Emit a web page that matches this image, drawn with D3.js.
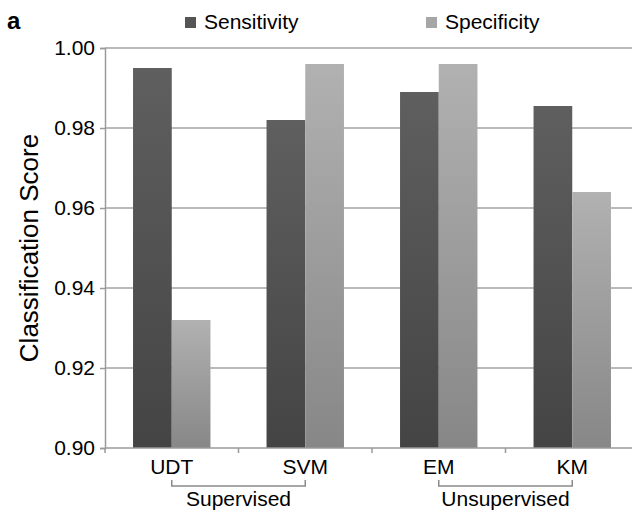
<!DOCTYPE html>
<html>
<head>
<meta charset="utf-8">
<script src="https://cdn.jsdelivr.net/npm/d3@7"></script>
<style>
  body { margin: 0; background: #fff; }
  text { font-family: "Liberation Sans", Arial, sans-serif; fill: #000; }
</style>
</head>
<body>
<div class="chart"></div>
<script>
var methods = ["UDT", "SVM", "EM", "KM"];
var sensitivity = [0.995, 0.982, 0.989, 0.9855];
var specificity = [0.932, 0.996, 0.996, 0.964];
var seriesNames = ["Sensitivity", "Specificity"];
var groups = [
  { name: "Supervised", from: "UDT", to: "SVM" },
  { name: "Unsupervised", from: "EM", to: "KM" }
];
var yTicks = [0.90, 0.92, 0.94, 0.96, 0.98, 1.00];

var svgWidth = 632;
var svgHeight = 512;

// plot area runs a little past the right edge, like the cropped original
var margin = { top: 48, left: 105, right: -7, bottom: 64 };
var width = svgWidth - margin.left - margin.right;
var height = svgHeight - margin.top - margin.bottom;

var svg = d3.select(".chart")
  .append("svg")
  .attr("width", svgWidth)
  .attr("height", svgHeight);

// bar gradients
var defs = svg.append("defs");
function addGradient(id, top, bottom) {
  var g = defs.append("linearGradient")
    .attr("id", id)
    .attr("x1", 0).attr("y1", 0).attr("x2", 0).attr("y2", 1);
  g.append("stop").attr("offset", "0%").attr("stop-color", top);
  g.append("stop").attr("offset", "100%").attr("stop-color", bottom);
}
addGradient("gradDark", "#5f5f5f", "#444444");
addGradient("gradLight", "#b1b1b1", "#878787");
var fills = ["url(#gradDark)", "url(#gradLight)"];
var legendFills = ["#555555", "#a6a6a6"];

var chartGroup = svg.append("g")
  .attr("transform", `translate(${margin.left}, ${margin.top})`);

var xScale = d3.scaleBand()
  .domain(methods)
  .range([0, width])
  .paddingInner(0.42)
  .paddingOuter(0.21);

var xSub = d3.scaleBand()
  .domain(seriesNames)
  .range([0, xScale.bandwidth()]);

var yScale = d3.scaleLinear()
  .domain([0.90, 1.00])
  .range([height, 0]);

// gridlines
chartGroup.append("g")
  .selectAll("line")
  .data(yTicks.slice(1))
  .enter()
  .append("line")
  .attr("x1", 0)
  .attr("x2", width)
  .attr("y1", d => yScale(d))
  .attr("y2", d => yScale(d))
  .attr("stroke", "#a3a3a3")
  .attr("stroke-width", 1.5);

// bars
var rows = methods.map((m, i) => ({ method: m, values: [sensitivity[i], specificity[i]] }));

var barGroups = chartGroup.selectAll(".bars")
  .data(rows)
  .enter()
  .append("g")
  .attr("transform", d => `translate(${xScale(d.method)}, 0)`);

barGroups.selectAll("rect")
  .data(d => d.values.map((v, j) => ({ key: seriesNames[j], value: v, j: j })))
  .enter()
  .append("rect")
  .attr("x", d => xSub(d.key))
  .attr("width", xSub.bandwidth())
  .attr("y", d => yScale(d.value))
  .attr("height", d => height - yScale(d.value))
  .attr("fill", d => fills[d.j]);

// y axis
var leftAxis = d3.axisLeft(yScale)
  .tickValues(yTicks)
  .tickFormat(d3.format(".2f"))
  .tickSize(5)
  .tickPadding(5);

var yAxis = chartGroup.append("g").call(leftAxis);
yAxis.select(".domain").attr("stroke", "#9a9a9a").attr("stroke-width", 1.5);
yAxis.selectAll(".tick line").attr("stroke", "#9a9a9a").attr("stroke-width", 1.5);
yAxis.selectAll(".tick text")
  .style("font-size", "21px")
  .style("font-family", "'Liberation Sans', Arial, sans-serif");

// x axis: ticks at category boundaries
var boundaries = methods.map(m => xScale(m) - xScale.step() * xScale.paddingInner() / 2);
boundaries.push(width);

chartGroup.append("line")
  .attr("x1", 0).attr("x2", width)
  .attr("y1", height).attr("y2", height)
  .attr("stroke", "#9a9a9a")
  .attr("stroke-width", 1.5);

chartGroup.append("g")
  .selectAll("line")
  .data(boundaries)
  .enter()
  .append("line")
  .attr("x1", d => d).attr("x2", d => d)
  .attr("y1", height).attr("y2", height + 5)
  .attr("stroke", "#9a9a9a")
  .attr("stroke-width", 1.5);

chartGroup.append("g")
  .selectAll("text")
  .data(methods)
  .enter()
  .append("text")
  .attr("x", d => xScale(d) + xScale.bandwidth() / 2)
  .attr("y", height + 26)
  .attr("text-anchor", "middle")
  .style("font-size", "21px")
  .text(d => d);

// group brackets
var center = m => xScale(m) + xScale.bandwidth() / 2;
var bracketGroup = chartGroup.append("g");
groups.forEach(function(g) {
  var x1 = center(g.from);
  var x2 = center(g.to);
  bracketGroup.append("path")
    .attr("d", `M${x1},${height + 32}V${height + 38}H${x2}V${height + 32}`)
    .attr("fill", "none")
    .attr("stroke", "#8a8a8a")
    .attr("stroke-width", 1.5);
  bracketGroup.append("text")
    .attr("x", (x1 + x2) / 2)
    .attr("y", height + 58)
    .attr("text-anchor", "middle")
    .style("font-size", "21px")
    .text(g.name);
});

// y axis label
chartGroup.append("text")
  .attr("transform", `translate(-67, ${height / 2}) rotate(-90)`)
  .attr("text-anchor", "middle")
  .style("font-size", "26px")
  .text("Classification Score");

// legend
var legendX = [185, 426];
var legend = svg.append("g");
seriesNames.forEach(function(name, i) {
  legend.append("rect")
    .attr("x", legendX[i])
    .attr("y", 17)
    .attr("width", 11)
    .attr("height", 11)
    .attr("fill", legendFills[i]);
  legend.append("text")
    .attr("x", legendX[i] + 19)
    .attr("y", 29)
    .style("font-size", "21px")
    .text(name);
});

// panel letter
svg.append("text")
  .attr("x", 7)
  .attr("y", 29)
  .style("font-size", "24px")
  .style("font-weight", "bold")
  .text("a");
</script>
</body>
</html>
